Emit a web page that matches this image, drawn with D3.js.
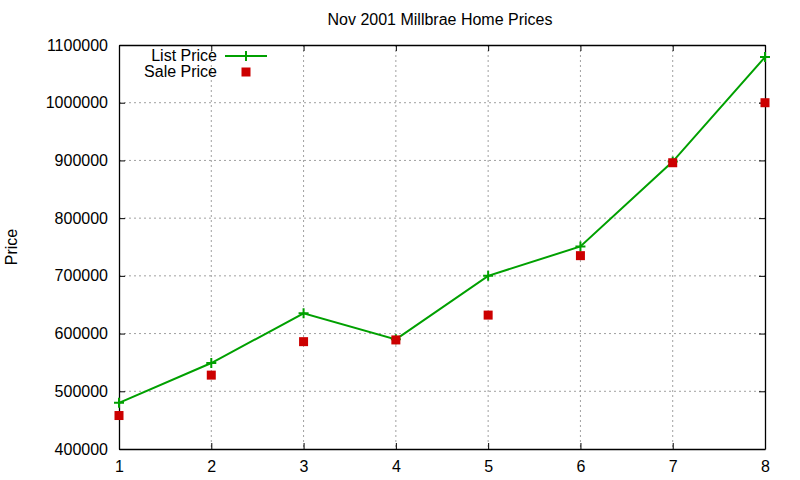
<!DOCTYPE html>
<html>
<head>
<meta charset="utf-8">
<script src="https://cdn.jsdelivr.net/npm/d3@7"></script>
<style>
  body { margin: 0; background: #fff; }
  svg text { font-family: "Liberation Sans", Arial, sans-serif; fill: #000; }
</style>
</head>
<body>
<svg id="chart" width="800" height="480"></svg>
<script>
// data
var months = [1, 2, 3, 4, 5, 6, 7, 8];
var listPrice = [480000, 549000, 635000, 590000, 700000, 751000, 898000, 1079000];
var salePrice = [458000, 528000, 586000, 589000, 632000, 735000, 896000, 1000000];
var yTicks = [400000, 500000, 600000, 700000, 800000, 900000, 1000000, 1100000];
var xTicks = [1, 2, 3, 4, 5, 6, 7, 8];

var svg = d3.select("#chart");
var pL = 119, pR = 765, pT = 45, pB = 449;
var fs = "16px";

var x = d3.scaleLinear().domain([1, 8]).range([pL, pR]);
var y = d3.scaleLinear().domain([400000, 1100000]).range([pB, pT]);

// grid
var grid = svg.append("g");
grid.selectAll(".gx").data(xTicks.slice(1, -1)).enter().append("line")
  .attr("x1", d => x(d)).attr("x2", d => x(d))
  .attr("y1", pT).attr("y2", pB)
  .style("stroke", "#a0a0a0").style("stroke-dasharray", "2,3");
grid.selectAll(".gy").data(yTicks.slice(1, -1)).enter().append("line")
  .attr("x1", pL).attr("x2", pR)
  .attr("y1", d => y(d)).attr("y2", d => y(d))
  .style("stroke", "#a0a0a0").style("stroke-dasharray", "2,3");

// axes, gnuplot style: ticks pointing in, mirrored
var axL = svg.append("g").attr("transform", "translate(" + pL + ",0)")
  .call(d3.axisLeft(y).tickValues(yTicks).tickSizeInner(-6).tickSizeOuter(0).tickPadding(11).tickFormat(d3.format("d")));
var axR = svg.append("g").attr("transform", "translate(" + pR + ",0)")
  .call(d3.axisRight(y).tickValues(yTicks).tickSizeInner(-6).tickSizeOuter(0).tickFormat(""));
var axB = svg.append("g").attr("transform", "translate(0," + pB + ")")
  .call(d3.axisBottom(x).tickValues(xTicks).tickSizeInner(-6).tickSizeOuter(0).tickPadding(12).tickFormat(d3.format("d")));
var axT = svg.append("g").attr("transform", "translate(0," + pT + ")")
  .call(d3.axisTop(x).tickValues(xTicks).tickSizeInner(-6).tickSizeOuter(0).tickFormat(""));
[axL, axR, axB, axT].forEach(function(a){
  a.selectAll("path").style("stroke", "#000").style("stroke-width", 1.3);
  a.selectAll("line").style("stroke", "#000");
  a.selectAll("text").style("font-size", fs).style("font-family", "Liberation Sans, Arial, sans-serif");
});

// list price line
var line = d3.line().x((d, i) => x(months[i])).y(d => y(d));
svg.append("path").datum(listPrice).attr("d", line)
  .style("fill", "none").style("stroke", "#00a000").style("stroke-width", 2);

function plus(g, cx, cy){
  g.append("path").attr("d", "M" + (cx - 5) + "," + cy + "h10M" + cx + "," + (cy - 5) + "v10")
    .style("stroke", "#00a000").style("stroke-width", 2);
}
var marks = svg.append("g");
listPrice.forEach(function(v, i){ plus(marks, x(months[i]), y(v)); });

svg.append("g").selectAll("rect").data(salePrice).enter().append("rect")
  .attr("x", (d, i) => x(months[i]) - 4.5).attr("y", d => y(d) - 4.5)
  .attr("width", 9).attr("height", 9)
  .style("fill", "#cc0000");

// legend
var lg = svg.append("g");
lg.append("text").attr("x", 217).attr("y", 61).attr("text-anchor", "end").style("font-size", fs).text("List Price");
lg.append("line").attr("x1", 225).attr("x2", 267).attr("y1", 56).attr("y2", 56)
  .style("stroke", "#00a000").style("stroke-width", 2);
plus(lg, 246, 56);
lg.append("text").attr("x", 217).attr("y", 77).attr("text-anchor", "end").style("font-size", fs).text("Sale Price");
lg.append("rect").attr("x", 241.5).attr("y", 67.5).attr("width", 9).attr("height", 9).style("fill", "#cc0000");

// titles
svg.append("text").attr("x", 440).attr("y", 25).attr("text-anchor", "middle").style("font-size", fs)
  .text("Nov 2001 Millbrae Home Prices");
svg.append("text").attr("transform", "translate(17,247) rotate(-90)").attr("text-anchor", "middle").style("font-size", fs)
  .text("Price");
</script>
</body>
</html>
